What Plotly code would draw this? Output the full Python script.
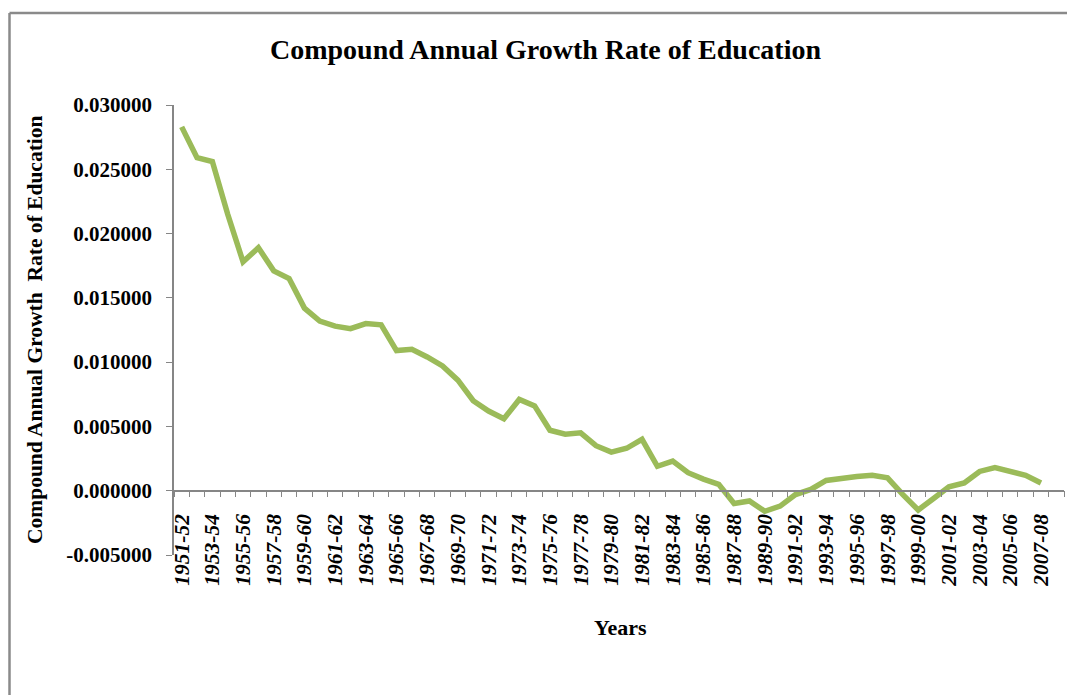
import plotly.graph_objects as go

# Academic years (the final year has no observation yet)
years = [f"{y}-{str(y + 1)[-2:]}" for y in range(1951, 2009)]

# Compound annual growth rate of education per year
cagr = [
    0.0283, 0.0259, 0.0256, 0.0215, 0.0178, 0.0189, 0.0171, 0.0165, 0.0142, 0.0132,
    0.0128, 0.0126, 0.0130, 0.0129, 0.0109, 0.0110, 0.0104, 0.0097, 0.0086, 0.0070,
    0.0062, 0.0056, 0.0071, 0.0066, 0.0047, 0.0044, 0.0045, 0.0035, 0.0030, 0.0033,
    0.0040, 0.0019, 0.0023, 0.0014, 0.0009, 0.0005, -0.0010, -0.0008, -0.0016, -0.0012,
    -0.0003, 0.0001, 0.0008, 0.0010, 0.0011, 0.0012, 0.0010, -0.0003, -0.0015, -0.0006,
    0.0003, 0.0006, 0.0015, 0.0018, 0.0015, 0.0012, 0.0006, None,
]

ytick_values = [-0.005, 0.0, 0.005, 0.010, 0.015, 0.020, 0.025, 0.030]
ytick_labels = ["-0.005000", "0.000000", "0.005000", "0.010000",
                "0.015000", "0.020000", "0.025000", "0.030000"]

x_idx = list(range(len(years)))
label_idx = x_idx[::2]
label_txt = [years[i] for i in label_idx]

SERIF = "Liberation Serif, Times New Roman, serif"
AXIS_GREY = "#868686"
W, H = 1067, 695
L, R, T, B = 174, 3, 105, 140
pw, ph = W - L - R, H - T - B


def px_x(p):
    return (p - L) / pw


def px_y(p):
    return (H - B - p) / ph


fig = go.Figure()
fig.add_trace(go.Scatter(
    x=x_idx, y=cagr, mode="lines",
    line=dict(color="#9BBB59", width=5.5),
    connectgaps=False, hoverinfo="x+y",
))

fig.update_layout(
    width=W, height=H,
    margin=dict(l=L, r=R, t=T, b=B, pad=0),
    paper_bgcolor="white", plot_bgcolor="white",
    showlegend=False,
    font=dict(family=SERIF, color="black"),
    xaxis=dict(
        range=[-0.5, len(years) - 0.5],
        tickmode="array", tickvals=label_idx, ticktext=label_txt,
        tickangle=-90, ticks="",
        tickfont=dict(family=SERIF, size=21.5, weight="bold", style="italic"),
        showgrid=False, zeroline=False,
        showline=True, linecolor=AXIS_GREY, linewidth=1.5,
        anchor="free", position=(0 - (-0.005)) / 0.035,
        ticklabelstandoff=14,
        minor=dict(tick0=-0.5, dtick=1, ticks="outside", ticklen=6,
                   tickcolor=AXIS_GREY, tickwidth=1.2, showgrid=False),
        fixedrange=True,
    ),
    yaxis=dict(
        range=[-0.005, 0.030],
        tickmode="array", tickvals=ytick_values, ticktext=ytick_labels,
        ticks="outside", ticklen=6, tickcolor=AXIS_GREY, tickwidth=1.2,
        tickfont=dict(family=SERIF, size=21, weight="bold"),
        showgrid=False, zeroline=False,
        showline=True, linecolor=AXIS_GREY, linewidth=1.5,
        ticklabelstandoff=10,
        fixedrange=True,
    ),
    annotations=[
        dict(text="<b>Compound Annual Growth Rate of Education</b>",
             xref="paper", yref="paper", x=px_x(545), y=px_y(50),
             xanchor="center", yanchor="middle", showarrow=False,
             font=dict(family=SERIF, size=28, color="black")),
        dict(text="<b>Compound Annual Growth&nbsp; Rate of Education</b>",
             xref="paper", yref="paper", x=px_x(35), y=px_y(330),
             xanchor="center", yanchor="middle", showarrow=False, textangle=-90,
             font=dict(family=SERIF, size=21.5, color="black")),
        dict(text="<b>Years</b>",
             xref="paper", yref="paper", x=px_x(620), y=px_y(627),
             xanchor="center", yanchor="middle", showarrow=False,
             font=dict(family=SERIF, size=22, color="black")),
    ],
    shapes=[
        # outer chart frame (left and top edges)
        dict(type="line", xref="paper", yref="paper",
             x0=px_x(9.5), x1=px_x(9.5), y0=px_y(13), y1=px_y(700),
             line=dict(color="#8a8a8a", width=2.5)),
        dict(type="line", xref="paper", yref="paper",
             x0=px_x(9.5), x1=px_x(1070), y0=px_y(13), y1=px_y(13),
             line=dict(color="#8a8a8a", width=2.5)),
    ],
)

fig.write_html("out.html")
